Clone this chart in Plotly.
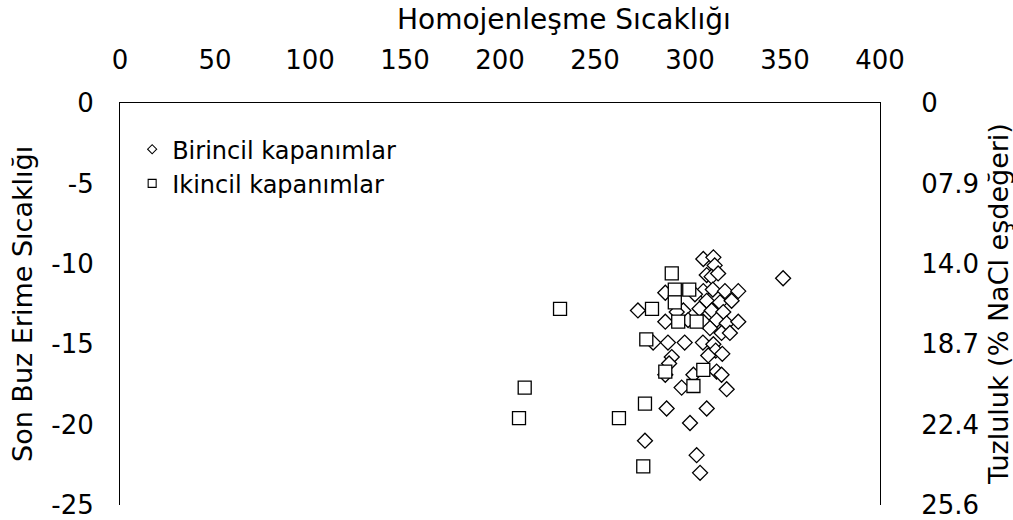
import plotly.graph_objects as go

# Birincil kapanımlar (primary inclusions): homogenisation T (x), last ice melting T (y)
birincil_x = [307, 312.3, 313, 308.8, 311.4, 314.8, 349,
              307, 312, 318.4, 325.4, 302.6, 287,
              308.8, 315.8, 321.9,
              305, 311.4, 317.5, 296.5, 293, 272.6,
              299, 307, 314, 319.3, 325.4, 287,
              310.5, 316.6, 321,
              288.4, 297.2, 306.8, 280.6, 312.3, 313.5, 317,
              309.6, 290.4, 289, 287, 301.8, 314, 316.6,
              295.6, 319.3, 287.7, 308.8, 300, 276.3, 303.5, 305.3]
birincil_y = [-9.7, -9.6, -10.1, -10.7, -10.8, -10.6, -10.9,
              -11.7, -11.6, -11.7, -11.7, -11.9, -11.8,
              -12.3, -12.4, -12.3,
              -12.8, -12.9, -13.0, -12.9, -13.0, -12.9,
              -13.5, -13.6, -13.5, -13.7, -13.6, -13.6,
              -14.0, -14.3, -14.3,
              -14.9, -14.9, -14.9, -14.9, -15.0, -15.4, -15.6,
              -15.7, -15.8, -16.2, -16.9, -16.9, -16.7, -16.9,
              -17.7, -17.8, -19.0, -19.0, -19.9, -21.0, -21.9, -23.0]

# Ikincil kapanımlar (secondary inclusions)
ikincil_x = [231.6, 213, 210, 262.6, 275.4, 276.3, 277, 280, 290.4,
             292, 299.6, 292, 293.8, 303.5, 287, 307, 301.8]
ikincil_y = [-12.8, -17.7, -19.6, -19.6, -22.6, -18.7, -14.7, -12.8, -10.6,
             -11.6, -11.6, -12.4, -13.6, -13.6, -16.7, -16.6, -17.6]

x_ticks = [0, 50, 100, 150, 200, 250, 300, 350, 400]
y_ticks = [-25, -20, -15, -10, -5, 0]
y_tick_labels = ["-25", "-20", "-15", "-10", "-5", "0"]
salinity_labels = ["25.6", "22.4", "18.7", "14.0", "07.9", "0"]

FONT = "DejaVu Sans"

fig = go.Figure()

fig.add_trace(go.Scatter(
    x=birincil_x, y=birincil_y, mode="markers", showlegend=False,
    marker=dict(symbol="diamond", size=11.5, color="white",
                line=dict(color="black", width=1.3)),
    xaxis="x", yaxis="y"))

fig.add_trace(go.Scatter(
    x=ikincil_x, y=ikincil_y, mode="markers", showlegend=False,
    marker=dict(symbol="square", size=13, color="white",
                line=dict(color="black", width=1.3)),
    xaxis="x", yaxis="y2"))

# legend entries
fig.add_trace(go.Scatter(
    x=[None], y=[None], mode="markers", name="Birincil kapanımlar",
    marker=dict(symbol="diamond", size=7, color="white",
                line=dict(color="black", width=1.1))))
fig.add_trace(go.Scatter(
    x=[None], y=[None], mode="markers", name="Ikincil kapanımlar",
    marker=dict(symbol="square", size=8, color="white",
                line=dict(color="black", width=1.1))))

fig.update_layout(
    width=1013, height=520,
    margin=dict(l=120, r=133, t=103, b=15, autoexpand=False),
    paper_bgcolor="white", plot_bgcolor="white",
    font=dict(family=FONT, size=26, color="black"),
    showlegend=True,
    legend=dict(x=0.016, y=0.94, xanchor="left", yanchor="top",
                bgcolor="rgba(0,0,0,0)", font=dict(size=24, family=FONT),
                itemsizing="trace", tracegroupgap=0),
    xaxis=dict(range=[0, 400], side="top", tickvals=x_ticks,
               showgrid=False, zeroline=False, showline=True,
               linecolor="black", linewidth=1, ticks="",
               ticklabelstandoff=23, tickfont=dict(size=26)),
    yaxis=dict(range=[-25, 0], tickvals=y_ticks, ticktext=y_tick_labels,
               showgrid=False, zeroline=False, showline=True,
               linecolor="black", linewidth=1, ticks="",
               ticklabelstandoff=20, ticklabeloverflow="allow",
               tickfont=dict(size=26)),
    yaxis2=dict(range=[-25, 0], overlaying="y", side="right", anchor="x",
                tickvals=y_ticks, ticktext=salinity_labels, showgrid=False,
                zeroline=False, showline=True, linecolor="black",
                linewidth=1, ticks="", ticklabelstandoff=35,
                ticklabeloverflow="allow", tickfont=dict(size=26)),
    annotations=[
        dict(text="Homojenleşme Sıcaklığı", xref="paper", yref="paper",
             x=0.584, y=1, yshift=84, xanchor="center", yanchor="middle",
             showarrow=False, font=dict(size=28, family=FONT)),
        dict(text="Son Buz Erime Sıcaklığı", xref="paper", yref="paper",
             x=0, xshift=-98, y=0.5, xanchor="center", yanchor="middle",
             textangle=-90, showarrow=False, font=dict(size=27, family=FONT)),
        dict(text="Tuzluluk (% NaCl eşdeğeri)", xref="paper", yref="paper",
             x=1, xshift=118, y=0.5, xanchor="center", yanchor="middle",
             textangle=-90, showarrow=False, font=dict(size=27, family=FONT)),
    ],
)

fig.write_html("out.html", config={"displayModeBar": False},
               post_script="document.body.style.margin='0';document.body.style.overflow='hidden';")
